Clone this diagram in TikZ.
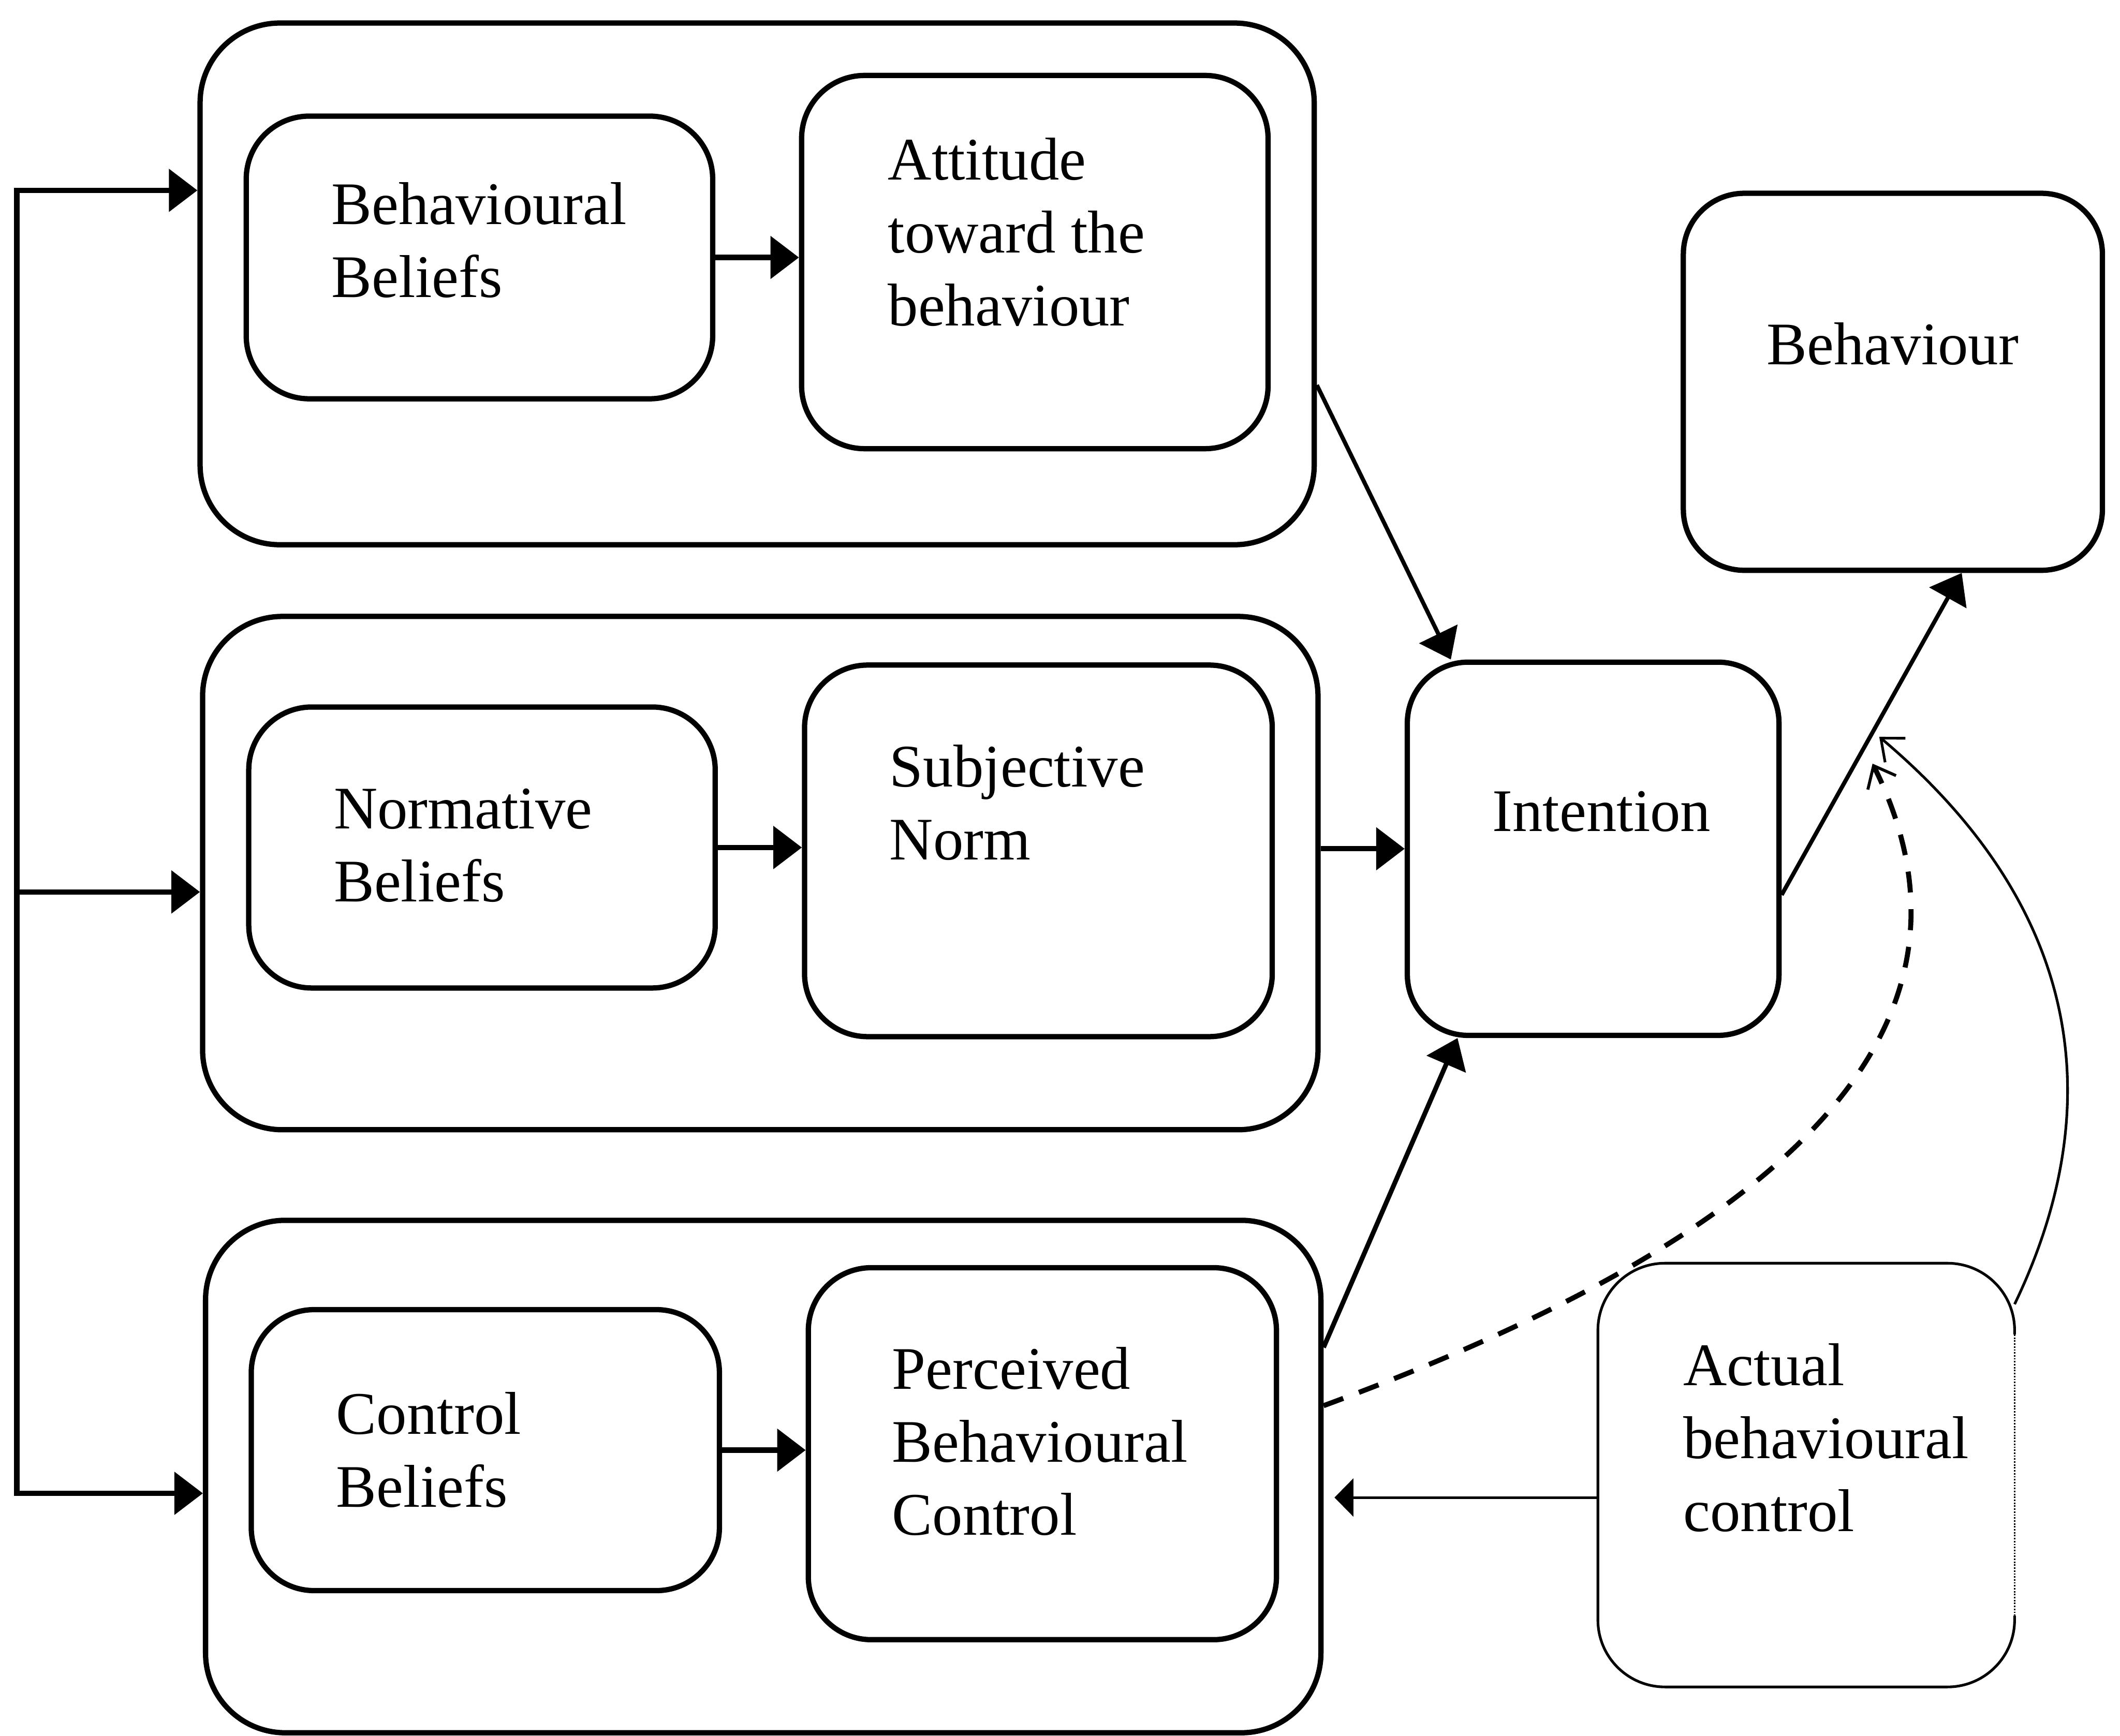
\documentclass[tikz,border=0pt]{standalone}
\usepackage{fontspec}
\setmainfont{Liberation Serif}
\usetikzlibrary{arrows.meta,calc}
\begin{document}
\begin{tikzpicture}[
  box/.style={draw, line width=3.6pt, inner sep=0pt, rounded corners=#1},
  box/.default=1.5cm,
  txt/.style={anchor=north west, inner sep=0pt, outer sep=0pt, align=left, font=\fontsize{41}{49.5}\selectfont},
  heavy/.style={line width=3.6pt, -{Triangle[length=0.68cm,width=1.0cm]}},
  medium/.style={line width=2.8pt, -{Triangle[length=0.68cm,width=1.0cm]}},
  dashedarrow/.style={line width=3.4pt, dash pattern=on 0.5cm off 0.4cm, -{Straight Barb[length=0.45cm,width=0.75cm,line width=2pt]}},
  thinarrow/.style={line width=1.8pt, -{Straight Barb[length=0.45cm,width=0.75cm,line width=1.8pt]}},
  thinline/.style={line width=1.8pt}
]
\useasboundingbox (0,0) rectangle (50.54,41.39);

% outer groups
\node[box=1.9cm, minimum width=26.56cm, minimum height=12.44cm] (O1) at (18.05,34.62) {};
\node[box=1.9cm, minimum width=26.59cm, minimum height=12.24cm] (O2) at (18.125,20.57) {};
\node[box=1.9cm, minimum width=26.59cm, minimum height=12.22cm] (O3) at (18.195,6.18) {};

% inner boxes
\node[box, minimum width=11.12cm, minimum height=6.74cm] (BB) at (11.43,35.25) {};
\node[box, minimum width=11.12cm, minimum height=8.90cm] (AT) at (24.67,35.14) {};
\node[box, minimum width=11.12cm, minimum height=6.70cm] (NB) at (11.49,21.18) {};
\node[box, minimum width=11.15cm, minimum height=8.86cm] (SN) at (24.755,21.10) {};
\node[box, minimum width=11.16cm, minimum height=6.70cm] (CB) at (11.57,6.81) {};
\node[box, minimum width=11.16cm, minimum height=8.87cm] (PBC) at (24.85,6.725) {};
\node[box=1.45cm, minimum width=8.86cm, minimum height=8.90cm] (INT) at (37.98,21.15) {};
\node[box=1.45cm, minimum width=9.99cm, minimum height=8.99cm] (BEH) at (45.125,32.285) {};
\node[inner sep=0pt, minimum width=9.92cm, minimum height=10.09cm] (ACT) at (43.06,6.215) {};
\draw[thinline, rounded corners=1.6cm] ([yshift=-1.7cm]ACT.north east) -- (ACT.north east) -- (ACT.north west) -- (ACT.south west) -- (ACT.south east) -- ([yshift=1.7cm]ACT.south east);
\draw[line width=1pt, densely dotted] ([yshift=-1.7cm]ACT.north east) -- ([yshift=1.7cm]ACT.south east);

% texts
\node[txt] (tBB) at (7.90,37.26) {\strut Behavioural\\Beliefs};
\node[txt] (tAT) at (21.17,38.32) {\strut Attitude\\toward the\\behaviour};
\node[txt] (tBEH) at (42.12,33.91) {\strut Behaviour};
\node[txt] (tNB) at (7.96,22.85) {\strut Normative\\Beliefs};
\node[txt] (tSN) at (21.21,23.85) {\strut Subjective\\Norm};
\node[txt] (tINT) at (35.58,22.79) {\strut Intention};
\node[txt] (tCB) at (8.02,8.41) {\strut Control\\Beliefs};
\node[txt] (tPBC) at (21.27,9.48) {\strut Perceived\\Behavioural\\Control};
\node[txt] (tACT) at (40.13,9.57) {\strut Actual\\behavioural\\control};

% left bracket
\coordinate (t1) at (0.40,36.85);
\coordinate (t2) at (0.40,20.12);
\coordinate (t3) at (0.40,5.78);
\draw[line width=3.6pt, {Triangle[length=0.68cm,width=1.0cm]}-{Triangle[length=0.68cm,width=1.0cm]}] (t1 -| O1.west) -- (t1) -- (t3) -- (t3 -| O3.west);
\draw[heavy] (t2) -- (t2 -| O2.west);

% inner arrows
\draw[heavy] (BB.east) -- (BB.east -| AT.west);
\draw[heavy] (NB.east) -- (NB.east -| SN.west);
\draw[heavy] (CB.east) -- (CB.east -| PBC.west);

% to intention
\draw[medium] ([yshift=3.87cm]O1.south east) -- ([xshift=1.1cm]INT.north west);
\draw[heavy] (O2.east |- INT.west) -- (INT.west);
\draw[medium, line width=3.2pt] ([yshift=3.08cm]O3.east) -- ([xshift=1.26cm]INT.south west);

% intention to behaviour
\draw[medium] ([yshift=-1.1cm]INT.east) -- ([xshift=6.7cm]BEH.south west);

% dashed PBC -> behaviour link
\coordinate (dend) at (44.64,23.18);
\draw[dashedarrow] ([yshift=1.69cm]O3.east) .. controls (40.6,11.2) and (48.2,16.0) .. (dend);

% actual control -> behaviour link
\coordinate (aend) at (44.80,23.82);
\draw[thinarrow] ([yshift=4.075cm]ACT.east) .. controls (50.12,14.64) and (49.96,19.47) .. (aend);

% actual control -> PBC
\coordinate (apbc) at ($(O3.east)+(0.26,-0.50)$);
\draw[thinline, -{Triangle[length=0.45cm,width=0.9cm]}] (ACT.west |- apbc) -- (apbc);
\end{tikzpicture}
\end{document}
